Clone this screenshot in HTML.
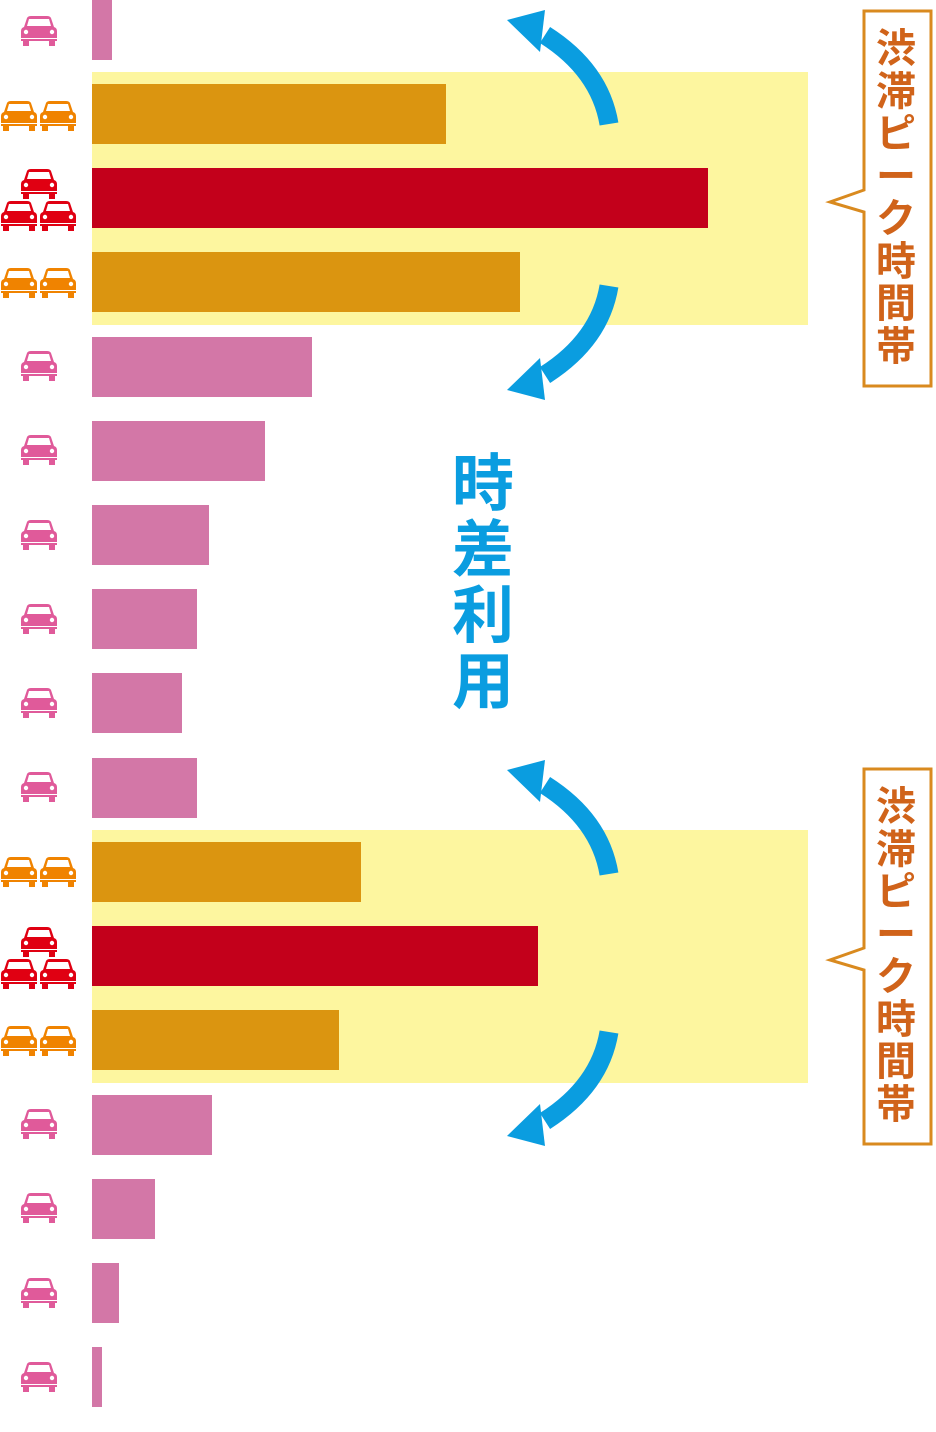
<!DOCTYPE html>
<html><head><meta charset="utf-8"><style>
body{margin:0;width:936px;height:1432px;background:#fff;position:relative;overflow:hidden}
.a{position:absolute}
.bar{position:absolute;left:92px;height:60px}
.p{background:#d377a7}.o{background:#db9510}.r{background:#c3001b}
.y{position:absolute;left:92px;width:716px;height:253px;background:#fdf69f}
.lbl{position:absolute;left:862px;width:68px;color:#d0631a;font:bold 40px/42.5px "Liberation Sans","Noto Sans CJK JP",sans-serif;text-align:center}
.c{position:absolute;left:451px;top:452px;width:64px;color:#0a9de0;font:bold 62px/66px "Liberation Sans","Noto Sans CJK JP",sans-serif;text-align:center}
</style></head><body>
<div class="y" style="top:72px"></div>
<div class="y" style="top:830px"></div>
<div class="bar p" style="top:0;width:20px"></div>
<div class="bar o" style="top:84px;width:354px"></div>
<div class="bar r" style="top:168px;width:616px"></div>
<div class="bar o" style="top:252px;width:428px"></div>
<div class="bar p" style="top:337px;width:220px"></div>
<div class="bar p" style="top:421px;width:173px"></div>
<div class="bar p" style="top:505px;width:117px"></div>
<div class="bar p" style="top:589px;width:105px"></div>
<div class="bar p" style="top:673px;width:90px"></div>
<div class="bar p" style="top:758px;width:105px"></div>
<div class="bar o" style="top:842px;width:269px"></div>
<div class="bar r" style="top:926px;width:446px"></div>
<div class="bar o" style="top:1010px;width:247px"></div>
<div class="bar p" style="top:1095px;width:120px"></div>
<div class="bar p" style="top:1179px;width:63px"></div>
<div class="bar p" style="top:1263px;width:27px"></div>
<div class="bar p" style="top:1347px;width:10px"></div>
<svg class="a" style="left:0;top:0" width="936" height="1432">
<defs>
<symbol id="car" viewBox="0 0 38 30">
<path d="M7 2 Q8 0 11 0 H27 Q30 0 31 2 L34 11 Q37 12 37 15 V22 H1 V15 Q1 12 4 11 Z" fill="currentColor"/>
<path d="M9 3 H29 L31 10 H7 Z" fill="#fff"/>
<circle cx="6" cy="16" r="2.2" fill="#fff"/><circle cx="32" cy="16" r="2.2" fill="#fff"/>
<rect x="1" y="23" width="36" height="2" fill="currentColor"/>
<rect x="3" y="25" width="6" height="5" fill="currentColor"/><rect x="29" y="25" width="6" height="5" fill="currentColor"/>
</symbol>
<g id="arr"><path d="M609 124 Q600 70 545 35" fill="none" stroke="#0a9de0" stroke-width="19"/><polygon points="507,20 545,10 540,52" fill="#0a9de0"/></g>
</defs>
<g style="color:#e05a9a">
<use href="#car" x="20" y="16" width="38" height="30"/>
<use href="#car" x="20" y="351" width="38" height="30"/>
<use href="#car" x="20" y="435" width="38" height="30"/>
<use href="#car" x="20" y="520" width="38" height="30"/>
<use href="#car" x="20" y="604" width="38" height="30"/>
<use href="#car" x="20" y="688" width="38" height="30"/>
<use href="#car" x="20" y="772" width="38" height="30"/>
<use href="#car" x="20" y="1109" width="38" height="30"/>
<use href="#car" x="20" y="1193" width="38" height="30"/>
<use href="#car" x="20" y="1278" width="38" height="30"/>
<use href="#car" x="20" y="1362" width="38" height="30"/>
</g>
<g style="color:#f08300">
<use href="#car" x="0" y="101" width="38" height="30"/><use href="#car" x="39" y="101" width="38" height="30"/>
<use href="#car" x="0" y="268" width="38" height="30"/><use href="#car" x="39" y="268" width="38" height="30"/>
<use href="#car" x="0" y="857" width="38" height="30"/><use href="#car" x="39" y="857" width="38" height="30"/>
<use href="#car" x="0" y="1026" width="38" height="30"/><use href="#car" x="39" y="1026" width="38" height="30"/>
</g>
<g style="color:#e00012">
<use href="#car" x="20" y="169" width="38" height="30"/><use href="#car" x="0" y="201" width="38" height="30"/><use href="#car" x="39" y="201" width="38" height="30"/>
<use href="#car" x="20" y="927" width="38" height="30"/><use href="#car" x="0" y="959" width="38" height="30"/><use href="#car" x="39" y="959" width="38" height="30"/>
</g>
<use href="#arr"/>
<use href="#arr" transform="translate(0,410) scale(1,-1)"/>
<use href="#arr" transform="translate(0,750)"/>
<use href="#arr" transform="translate(0,1156) scale(1,-1)"/>
<path d="M864 11 H931 V386 H864 V212 L830 202 L864 190 Z" fill="#fff" stroke="#d98a1f" stroke-width="3"/>
<path d="M864 769 H931 V1144 H864 V970 L830 960 L864 948 Z" fill="#fff" stroke="#d98a1f" stroke-width="3"/>
</svg>
<div class="lbl" style="top:28px">渋<br>滞<br>ピ<br>ー<br>ク<br>時<br>間<br>帯</div>
<div class="lbl" style="top:786px">渋<br>滞<br>ピ<br>ー<br>ク<br>時<br>間<br>帯</div>
<div class="c">時<br>差<br>利<br>用</div>
</body></html>
